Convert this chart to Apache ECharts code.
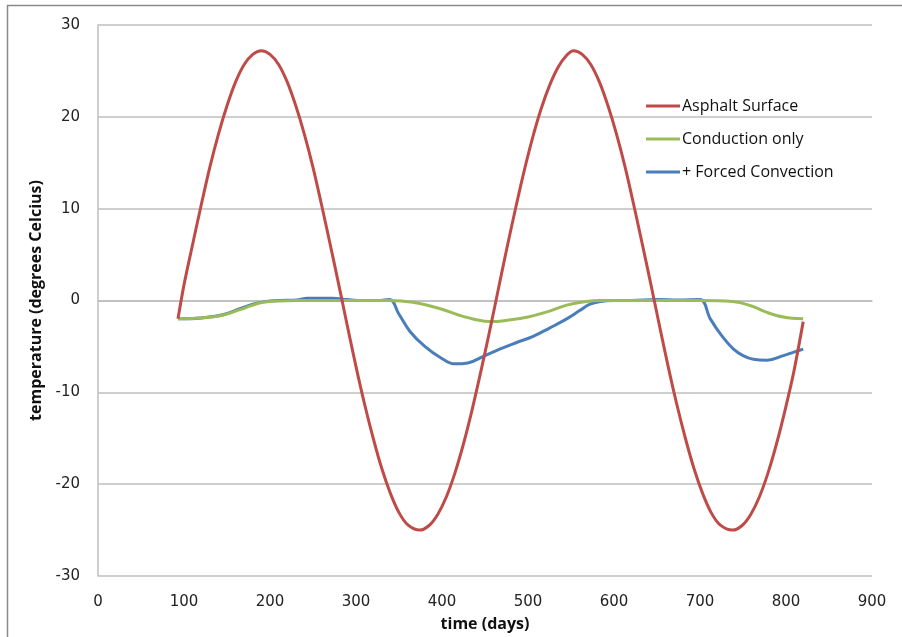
<!DOCTYPE html>
<html style="height: 100%">
<head>
    <meta charset="utf-8">
</head>
<body style="height: 100%; margin: 0; background: #fff">
<div id="container" style="width: 902px;height: 637px"></div>

<script src="https://cdn.jsdelivr.net/npm/echarts@6/dist/echarts.min.js"></script>
<script type="text/javascript">
    // values (days, degrees C)
    var asphaltDays = [93, 100, 110, 120, 130, 140, 150, 160, 170, 180, 190, 200, 210, 220, 230, 240, 250, 260, 270, 280, 290, 300, 310, 320, 330, 340, 350, 360, 374,
        385, 395, 405, 415, 425, 435, 445, 455, 465, 475, 485, 495, 505, 515, 525, 535, 545, 553,
        563, 573, 583, 593, 603, 613, 623, 633, 643, 653, 663, 673, 683, 693, 703, 713, 723, 738,
        749, 759, 769, 779, 789, 799, 809, 820];
    var asphaltTemp = [-2, 1.7, 6.1, 10.4, 14.5, 18.1, 21.2, 23.8, 25.7, 26.8, 27.2, 26.8, 25.7, 23.8, 21.2, 18.1, 14.5, 10.4, 6.1, 1.7, -2.8, -7.2, -11.3, -15.0, -18.3, -21.0, -23.1, -24.4, -25.0,
        -24.5, -23.3, -21.4, -18.8, -15.6, -11.9, -7.8, -3.5, 1.0, 5.5, 9.8, 13.9, 17.6, 20.8, 23.4, 25.4, 26.7, 27.2,
        26.8, 25.7, 23.8, 21.2, 18.1, 14.5, 10.4, 6.1, 1.7, -2.8, -7.2, -11.3, -15.0, -18.3, -21.0, -23.1, -24.4, -25.0,
        -24.5, -23.3, -21.4, -18.8, -15.6, -11.9, -7.8, -2.3];

    var conductionDays = [93, 120, 145, 165, 180, 192, 210, 231, 260, 300, 339, 366, 398, 420, 440, 456, 480, 500, 520, 545, 565, 584, 620, 660, 700, 738, 760, 778, 797, 820];
    var conductionTemp = [-2, -1.9, -1.6, -1.0, -0.5, -0.2, -0.05, 0, 0, 0, 0, -0.2, -0.9, -1.6, -2.1, -2.3, -2.1, -1.8, -1.3, -0.5, -0.15, 0, 0, 0, 0, -0.1, -0.6, -1.3, -1.8, -2.0];

    var convectionDays = [93, 120, 145, 165, 180, 192, 210, 231, 243, 273, 290, 308, 325, 339, 350, 363, 380, 398, 415, 430, 450, 467, 486, 506, 525, 545, 560, 572, 584, 600, 620, 650, 675, 700, 712, 725, 739, 750, 762, 778, 797, 810, 820];
    var convectionTemp = [-2, -1.9, -1.55, -0.9, -0.4, -0.15, 0, 0.05, 0.25, 0.25, 0.1, 0, 0, 0.1, -1.5, -3.4, -5.0, -6.2, -6.9, -6.8, -6.0, -5.3, -4.6, -3.9, -3.0, -2.0, -1.1, -0.4, -0.1, 0, 0, 0.1, 0.05, 0.1, -2.0, -3.8, -5.3, -6.0, -6.4, -6.5, -6.0, -5.6, -5.3];

    var seriesNames = ["Asphalt Surface", "Conduction only", "+ Forced Convection"];
    var seriesColors = ["#be4b48", "#9bbb59", "#4a7ebb"];
    var seriesSmooth = [0.3, 0.4, 0.4];

    function pairs(xs, ys) {
        var out = [];
        for (var i = 0; i < xs.length; i++) {
            out.push([xs[i], ys[i]]);
        }
        return out;
    }

    var allData = [
        pairs(asphaltDays, asphaltTemp),
        pairs(conductionDays, conductionTemp),
        pairs(convectionDays, convectionTemp)
    ];

    var dom = document.getElementById("container");
    var myChart = echarts.init(dom);

    var option = {
        animation: false,
        backgroundColor: "#fff",
        graphic: [{
            type: 'rect',
            shape: {x: 7.5, y: 5.5, width: 1000, height: 1000},
            style: {fill: 'none', stroke: '#8a8a8a', lineWidth: 1.5},
            silent: true
        }],
        grid: {
            left: 98,
            top: 25,
            right: 30,
            bottom: 59
        },
        legend: {
            orient: 'vertical',
            left: 641,
            top: 93,
            itemWidth: 34,
            itemHeight: 3,
            itemGap: 17,
            icon: 'rect',
            textStyle: {color: "#111", fontSize: 16, fontFamily: "Open Sans", padding: [0, 0, 0, -3]},
            data: seriesNames
        },
        xAxis: {
            type: 'value',
            min: 0,
            max: 900,
            interval: 100,
            name: 'time (days)',
            nameLocation: 'middle',
            nameGap: 40,
            nameTextStyle: {color: "#111", fontSize: 16, fontWeight: 'bold', fontFamily: "Open Sans"},
            axisLine: {show: true, lineStyle: {color: "#bfbfbf", width: 1.5}},
            axisTick: {show: false},
            axisLabel: {margin: 19, fontSize: 15, color: "#222", fontFamily: "DejaVu Sans"},
            splitLine: {show: false}
        },
        yAxis: {
            type: 'value',
            min: -30,
            max: 30,
            interval: 10,
            name: 'temperature (degrees Celcius)',
            nameLocation: 'middle',
            nameGap: 48,
            nameTextStyle: {color: "#111", fontSize: 16, fontWeight: 'bold', fontFamily: "Open Sans"},
            axisLine: {show: true, lineStyle: {color: "#bfbfbf", width: 1.5}},
            axisTick: {show: false},
            axisLabel: {margin: 18, fontSize: 15, color: "#222", fontFamily: "DejaVu Sans"},
            splitLine: {show: true, lineStyle: {color: "#bfbfbf", width: 1.5}}
        },
        series: seriesNames.map(function (name, i) {
            return {
                name: name,
                type: 'line',
                smooth: seriesSmooth[i],
                showSymbol: false,
                symbol: 'none',
                data: allData[i],
                z: 5 - i,
                itemStyle: {color: seriesColors[i]},
                lineStyle: {color: seriesColors[i], width: 3}
            };
        })
    };

    myChart.setOption(option, true);
</script>
</body>
</html>
